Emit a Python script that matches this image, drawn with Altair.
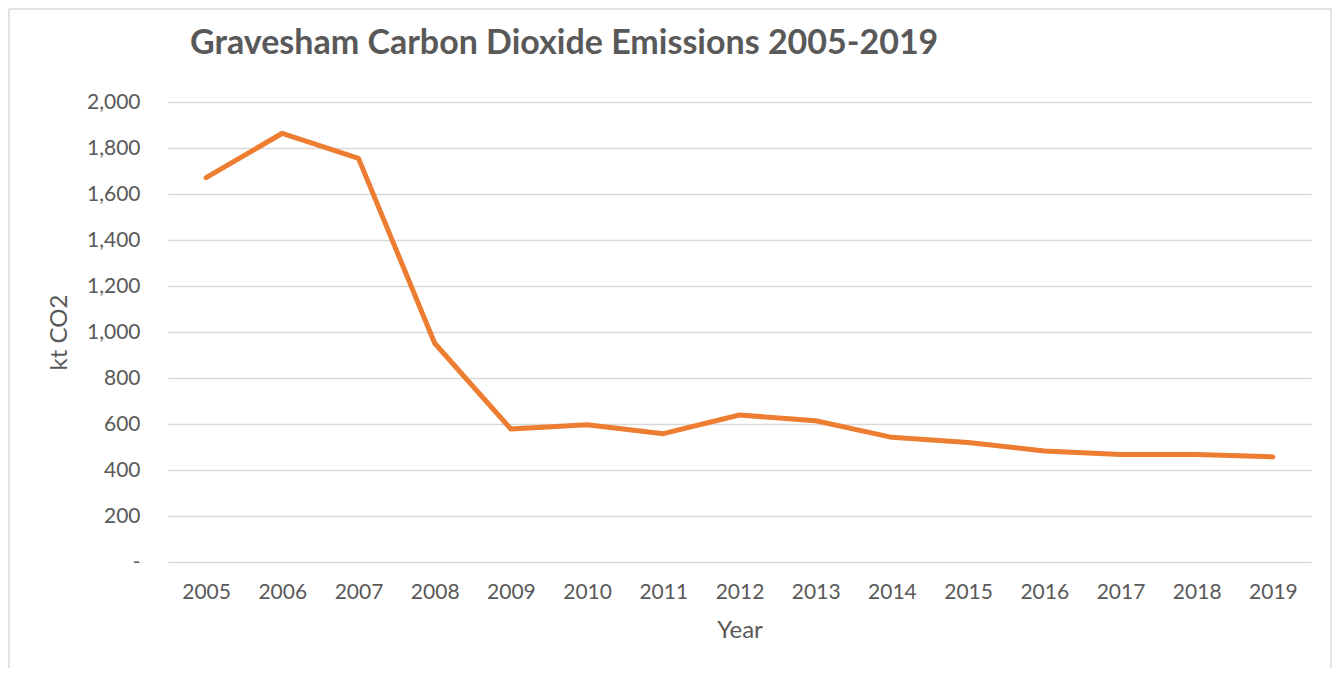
import altair as alt
import pandas as pd

years = ["2005", "2006", "2007", "2008", "2009", "2010", "2011", "2012",
         "2013", "2014", "2015", "2016", "2017", "2018", "2019"]
emissions = [1671, 1864, 1755, 951, 578, 597, 558, 639,
             614, 542, 520, 483, 467, 467, 457]

df = pd.DataFrame({"Year": years, "kt CO2": emissions})

FONT = "Lato"
TXT = "#595959"
BORDER = "#D9D9D9"

one = pd.DataFrame({"a": [0]})
left_edge = alt.Chart(one).mark_rule(color=BORDER, strokeWidth=1.5).encode(
    x=alt.value(-159), y=alt.value(-93), y2=alt.value(566))
top_edge = alt.Chart(one).mark_rule(color=BORDER, strokeWidth=1.5).encode(
    x=alt.value(-159), x2=alt.value(1163), y=alt.value(-93))
right_edge = alt.Chart(one).mark_rule(color=BORDER, strokeWidth=1.5).encode(
    x=alt.value(1163), y=alt.value(-93), y2=alt.value(566))

line = alt.Chart(df).mark_line(
    color="#ED7D31", strokeWidth=5, strokeCap="round", strokeJoin="round"
).encode(
    x=alt.X("Year:O", sort=None,
            axis=alt.Axis(title="Year", labelAngle=0, ticks=False, domain=False,
                          grid=False, labelPadding=19, titlePadding=16)),
    y=alt.Y("kt CO2:Q", scale=alt.Scale(domain=[0, 2000], nice=False),
            axis=alt.Axis(title="kt CO2", values=list(range(0, 2001, 200)),
                          labelExpr="datum.value == 0 ? '-' : format(datum.value, ',')",
                          ticks=False, domain=False, labelPadding=28,
                          titlePadding=15, gridColor=BORDER, gridWidth=1.5)),
)

chart = alt.layer(left_edge, top_edge, right_edge, line).properties(
    width=1143, height=460,
    title=alt.TitleParams("Gravesham Carbon Dioxide Emissions 2005-2019",
                          anchor="start", frame="group", dx=22, offset=-80,
                          baseline="alphabetic", fontSize=34,
                          font=FONT, fontWeight="bold", color=TXT),
    autosize=alt.AutoSizeParams(type="none"),
    padding={"left": 160, "top": 94, "right": 22, "bottom": 106},
).configure_view(stroke=None).configure_axis(
    labelFont=FONT, titleFont=FONT, labelColor=TXT, titleColor=TXT,
    labelFontSize=21, titleFontSize=24, titleFontWeight="normal",
)

chart.save("out.html", embed_options={"renderer": "svg", "actions": False})
